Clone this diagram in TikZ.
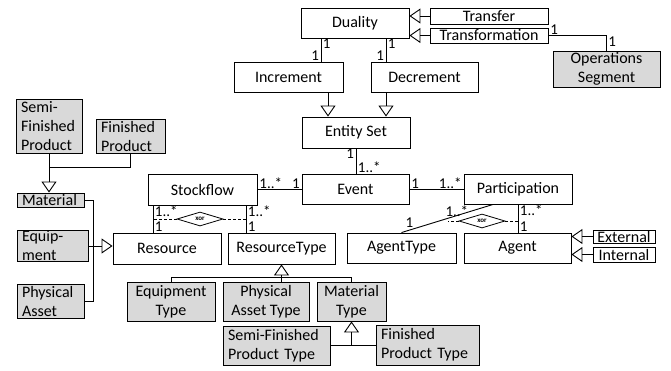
\documentclass[tikz,border=0pt]{standalone}
\usepackage{fontspec}
\setmainfont{Carlito}
\usetikzlibrary{arrows.meta,shapes.geometric}
\definecolor{typefill}{RGB}{217,217,217}

\tikzset{
  cls/.style={draw, fill=white, line width=0.9pt, inner sep=0pt, font=\fontsize{16}{19}\selectfont},
  typecls/.style={cls, fill=typefill},
  leftcls/.style={typecls, align=left, inner xsep=5pt},
  gen/.style={-{Triangle[open, length=11pt, width=15pt]}, line width=0.9pt},
  assoc/.style={line width=0.9pt},
  mult/.style={inner xsep=1.5pt, inner ysep=0.3pt, font=\fontsize{15}{15}\selectfont},
  xorbox/.style={diamond, draw, fill=white, line width=0.8pt, inner sep=0pt, minimum width=46pt, minimum height=14pt, font=\fontsize{7}{7}\selectfont\bfseries},
  xorline/.style={densely dashed, line width=0.8pt}
}

\begin{document}
\begin{tikzpicture}[x=1pt, y=-1pt]
    \useasboundingbox (0,0) rectangle (671,370);

    \node[cls, minimum width=108, minimum height=30] (Duality) at (355,23) {Duality};
    \node[cls, minimum width=118, minimum height=16] (Transfer) at (489,16) {Transfer};
    \node[cls, minimum width=118, minimum height=15] (Transformation) at (489,35.5) {Transformation};
    \node[typecls, minimum width=107, minimum height=36, align=center] (OpsSegment) at (606.5,69) {Operations\\Segment};
    \node[cls, minimum width=109, minimum height=30] (Increment) at (288.5,77) {Increment};
    \node[cls, minimum width=107, minimum height=30] (Decrement) at (424.5,77) {Decrement};
    \node[cls, minimum width=108, minimum height=31] (EntitySet) at (356,132.5) {Entity Set};
    \node[cls, minimum width=107, minimum height=30] (Event) at (355.5,189) {Event};
    \node[cls, minimum width=109, minimum height=31] (Stockflow) at (202.5,189.5) {Stockflow};
    \node[cls, minimum width=108, minimum height=30] (Participation) at (518,189) {Participation};
    \node[cls, minimum width=108, minimum height=31] (Resource) at (167,248.5) {Resource};
    \node[cls, minimum width=107, minimum height=31] (ResourceType) at (281.5,248.5) {ResourceType};
    \node[cls, minimum width=109, minimum height=30] (AgentType) at (401.5,248) {AgentType};
    \node[cls, minimum width=107, minimum height=30] (Agent) at (517.5,248) {Agent};
    \node[cls, minimum width=62, minimum height=13] (External) at (624,236.5) {External};
    \node[cls, minimum width=62, minimum height=15] (Internal) at (624,254.5) {Internal};

    \node[leftcls, text width=56, minimum height=54] (SemiFinished) at (49,126) {Semi-\\Finished\\Product};
    \node[leftcls, text width=59, minimum height=34] (FinishedProduct) at (130.5,136) {Finished\\Product};
    \node[leftcls, text width=57, minimum height=14] (Material) at (50.5,200) {Material};
    \node[leftcls, text width=61, minimum height=30] (Equipment) at (52.5,246) {Equip-\\ment};
    \node[leftcls, text width=57, minimum height=34] (PhysicalAsset) at (50.5,301) {Physical\\Asset};

    \node[typecls, minimum width=88, minimum height=39, align=center] (EquipmentType) at (171,301.5) {Equipment\\Type};
    \node[typecls, minimum width=86, minimum height=39, align=center] (PhysicalAssetType) at (266,301.5) {Physical\\Asset Type};
    \node[typecls, minimum width=69, minimum height=39, align=center] (MaterialType) at (351.5,301.5) {Material\\Type};
    \node[leftcls, text width=97, minimum height=39] (SemiFinishedType) at (276.5,345.5) {Semi-Finished\\Product Type};
    \node[leftcls, text width=93, minimum height=40] (FinishedType) at (427.5,345) {Finished\\Product Type};

    \node[xorbox] (xorResource) at (200,219) {xor};
    \node[xorbox] (xorAgent) at (482,221) {xor};

    \draw[gen] (Transfer.west) -- (Transfer.west -| Duality.east);
    \draw[gen] (Transformation.west) -- (Transformation.west -| Duality.east);
    \draw[assoc] (Transformation.east) -| (OpsSegment.north)
        node[mult, pos=0, anchor=south west] {1}
        node[mult, pos=1, anchor=south west, yshift=3pt] {1};

    \draw[assoc] ([xshift=-34pt]Duality.south) -- ([xshift=32.5pt]Increment.north)
        node[mult, pos=0, anchor=north west] {1}
        node[mult, pos=1, anchor=south east] {1};
    \draw[assoc] ([xshift=31pt]Duality.south) -- ([xshift=-38.5pt]Decrement.north)
        node[mult, pos=0, anchor=north west] {1}
        node[mult, pos=1, anchor=south east] {1};
    \draw[gen] ([xshift=39.5pt]Increment.south) -- ([xshift=-28pt]EntitySet.north);
    \draw[gen] ([xshift=-38.5pt]Decrement.south) -- ([xshift=30pt]EntitySet.north);

    \draw[assoc] (EntitySet.south) -- (EntitySet.south |- Event.north)
        node[mult, pos=0, anchor=north east] {1}
        node[mult, pos=1, anchor=south west] {1..*};
    \draw[assoc] (Stockflow.east) -- (Stockflow.east -| Event.west)
        node[mult, pos=0, anchor=south west] {1..*}
        node[mult, pos=1, anchor=south east] {1};
    \draw[assoc] (Event.east) -- (Participation.west)
        node[mult, pos=0, anchor=south west] {1}
        node[mult, pos=1, anchor=south east] {1..*};

    \draw[assoc] ([xshift=-49.5pt]Stockflow.south) -- ([xshift=-14pt]Resource.north)
        node[mult, pos=0, anchor=north west] {1..*}
        node[mult, pos=1, anchor=south west] {1};
    \draw[assoc] ([xshift=43.5pt]Stockflow.south) -- ([xshift=-35.5pt]ResourceType.north)
        node[mult, pos=0, anchor=north west] {1..*}
        node[mult, pos=1, anchor=south west] {1};
    \draw[xorline] (xorResource.west) -- ++(-24,0);
    \draw[xorline] (xorResource.east) -- ++(23,0);

    \draw[assoc] ([xshift=-25pt]Participation.south) -- (AgentType.north)
        node[mult, pos=0.25, anchor=east] {1..*}
        node[mult, pos=0.85, anchor=south east] {1};
    \draw[assoc] (Participation.south) -- (Participation.south |- Agent.north)
        node[mult, pos=0, anchor=north west] {1..*}
        node[mult, pos=1, anchor=south west] {1};
    \draw[xorline] (xorAgent.west) -- ++(-11,0);
    \draw[xorline] (xorAgent.east) -- (xorAgent.east -| Participation.south);

    \draw[gen] (External.west) -- (External.west -| Agent.east);
    \draw[gen] (Internal.west) -- (Internal.west -| Agent.east);

    \draw[assoc] (SemiFinished.south) -- ++(0,14) -| (FinishedProduct.south);
    \draw[gen] ([yshift=-14pt]SemiFinished.south) -- (SemiFinished.south |- Material.north);
    \draw[assoc] (Material.east) -- ++(9,0) |- (PhysicalAsset.east);
    \draw[gen] (Equipment.east) -- (Equipment.east -| Resource.west);

    \draw[gen] (PhysicalAssetType.north -| ResourceType.south) -- (ResourceType.south);
    \draw[assoc] (EquipmentType.north) -- ++(0,-4) -| (MaterialType.north);
    \draw[assoc] (SemiFinishedType.east) -- (SemiFinishedType.east -| FinishedType.west);
    \draw[gen] (SemiFinishedType.east -| MaterialType.south) -- (MaterialType.south);
\end{tikzpicture}
\end{document}
